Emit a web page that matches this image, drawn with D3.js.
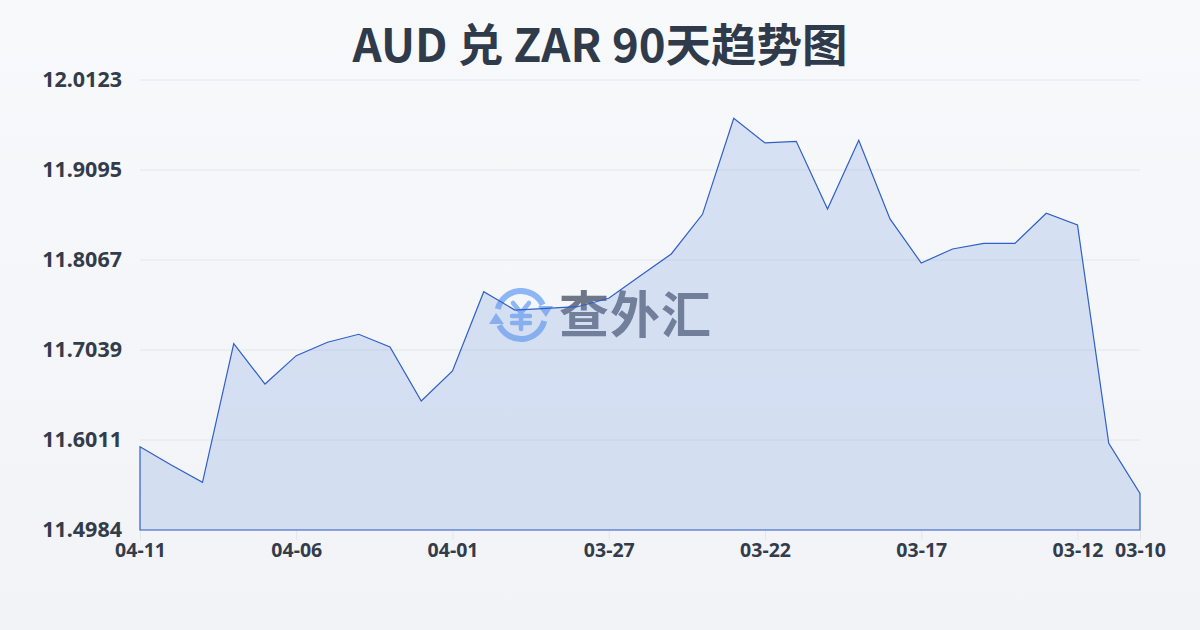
<!DOCTYPE html>
<html><head><meta charset="utf-8">
<script src="https://cdn.jsdelivr.net/npm/d3@7/dist/d3.min.js"></script>
<style>html,body{margin:0;padding:0;background:#f5f6f8;}svg{display:block;}</style>
</head><body>
<svg id="c" width="1200" height="630"></svg>
<script>
const title = "AUD 兑 ZAR 90天趋势图";
const dates = ["04-11","04-10","04-09","04-08","04-07","04-06","04-05","04-04","04-03","04-02","04-01","03-31","03-30","03-29","03-28","03-27","03-26","03-25","03-24","03-23","03-22","03-21","03-20","03-19","03-18","03-17","03-16","03-15","03-14","03-13","03-12","03-11","03-10"];
const values = [11.5935,11.5726,11.5529,11.7112,11.6651,11.6975,11.7128,11.7219,11.7074,11.6457,11.6800,11.7705,11.7496,11.7516,11.7534,11.7630,11.7885,11.8136,11.8589,11.9686,11.9404,11.9423,11.8650,11.9434,11.8536,11.8033,11.8193,11.8258,11.8258,11.8601,11.8467,11.5974,11.5403];
const yTicks = [11.4984,11.6011,11.7039,11.8067,11.9095,12.0123];
const xTickLabels = ["04-11","04-06","04-01","03-27","03-22","03-17","03-12","03-10"];
const watermark = "查外汇";

const svg = d3.select("#c");
const W = 1200, H = 630;
const m = {l:140, r:60, t:80, b:100};
const defs = svg.append("defs");
const bg = defs.append("linearGradient").attr("id","bg").attr("x1",0).attr("y1",0).attr("x2",0).attr("y2",1);
bg.append("stop").attr("offset","0%").attr("stop-color","#f8f9fb");
bg.append("stop").attr("offset","100%").attr("stop-color","#f1f3f6");
svg.append("rect").attr("width",W).attr("height",H).attr("fill","url(#bg)");

const x = d3.scalePoint().domain(dates).range([m.l, W-m.r]);
const y = d3.scaleLinear().domain([yTicks[0], yTicks[yTicks.length-1]]).range([H-m.b, m.t]);

// title
svg.append("text").attr("x",600).attr("y",62).attr("text-anchor","middle")
  .attr("font-family","'Noto Sans CJK SC','Noto Sans',sans-serif").attr("font-weight",700)
  .attr("font-size",45.5).attr("fill","#2f3a4b").text(title);

// grid
svg.append("g").selectAll("line").data(yTicks).join("line")
  .attr("x1",m.l).attr("x2",W-m.r).attr("y1",d=>y(d)).attr("y2",d=>y(d))
  .attr("stroke","#e3e6eb").attr("stroke-width",1);

// y axis labels
const yAxis = d3.axisLeft(y).tickValues(yTicks).tickSize(0).tickPadding(18).tickFormat(d3.format(".4f"));
const gy = svg.append("g").attr("transform",`translate(${m.l},0)`).call(yAxis);
gy.select(".domain").remove();
gy.selectAll("text").attr("font-family","'Noto Sans','Open Sans',sans-serif").attr("font-weight",700)
  .attr("font-size",21.5).attr("fill","#333c4a");

// x axis
const xAxis = d3.axisBottom(x).tickValues(xTickLabels).tickSize(10).tickPadding(3);
const gx = svg.append("g").attr("transform",`translate(0,${H-m.b})`).call(xAxis);
gx.select(".domain").remove();
gx.selectAll("line").attr("stroke","#e3e6eb");
gx.selectAll("text").attr("font-family","'Noto Sans','Open Sans',sans-serif").attr("font-weight",700)
  .attr("font-size",19.5).attr("fill","#333c4a");

// watermark
const wm = svg.append("g").attr("transform","translate(521,315)");
const arc = d3.arc().innerRadius(21).outerRadius(27);
const wmc = "#8db6f4";
wm.append("path").attr("d",arc({startAngle:-0.42*Math.PI, endAngle:0.36*Math.PI})).attr("fill",wmc);
wm.append("path").attr("d",arc({startAngle:0.58*Math.PI, endAngle:1.36*Math.PI})).attr("fill",wmc);
wm.append("path").attr("d","M17,-9 L32,-9 L25,2 Z").attr("fill",wmc);
wm.append("path").attr("d","M-17,9 L-32,9 L-25,-2 Z").attr("fill",wmc);
const yen = wm.append("g").attr("stroke",wmc).attr("stroke-width",4.5).attr("stroke-linecap","round").attr("fill","none");
yen.append("path").attr("d","M-8,-12 L0,-2 L8,-12");
yen.append("path").attr("d","M0,-2 L0,14");
yen.append("path").attr("d","M-9,1 L9,1");
yen.append("path").attr("d","M-9,8 L9,8");
svg.append("text").attr("x",559).attr("y",333).attr("font-family","'Noto Sans CJK SC',sans-serif")
  .attr("font-weight",700).attr("font-size",50).attr("fill","#6f7685").attr("letter-spacing",1).text(watermark);

// area
const area = d3.area().x((d,i)=>x(dates[i])).y0(y(yTicks[0])).y1(d=>y(d));
svg.append("path").datum(values).attr("d",area)
  .attr("fill","rgba(120,155,225,0.25)").attr("stroke","#2f5fc8").attr("stroke-width",1.2)
  .attr("stroke-linejoin","miter");
</script>
</body></html>
